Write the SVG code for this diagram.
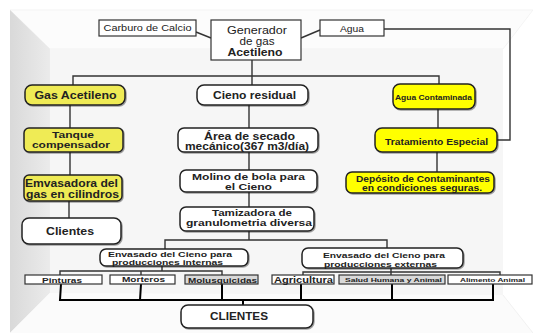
<svg xmlns="http://www.w3.org/2000/svg" width="533" height="333" viewBox="0 0 533 333">
<defs>
<linearGradient id="lw" x1="0" y1="0" x2="1" y2="0">
<stop offset="0" stop-color="#d9d9d9"/><stop offset="1" stop-color="#ebebeb"/>
</linearGradient>
<filter id="sh" x="-10%" y="-20%" width="120%" height="150%">
<feDropShadow dx="1" dy="1" stdDeviation="0.6" flood-color="#000" flood-opacity="0.35"/>
</filter>
<style>
.bx{stroke:#222;stroke-width:1.5;filter:url(#sh)}
.sq{stroke:#333;stroke-width:1.2}
.y1{fill:#efeb55}
.y2{fill:#ffff00}
.w{fill:#fff}
.g{fill:#d9d9d9}
text{font-family:"Liberation Sans",Arial,sans-serif;fill:#222;text-anchor:middle}
.b{font-weight:bold}
.c{stroke:#333;stroke-width:1.4;fill:none}
.c2{stroke:#000;stroke-width:2;fill:none}
</style>
</defs>
<g id="background">
<rect x="0" y="0" width="533" height="333" fill="#fff"/>
<polygon points="10,10 533,10 503,49 50,49" fill="#fcfcfc" stroke="#ececec" stroke-width="0.6"/>
<polygon points="10,10 50,49 50,293 10,333" fill="url(#lw)"/>
<rect x="50" y="49" width="453" height="246" fill="#f6f6f6"/>
<polygon points="50,293 503,295 533,333 10,333" fill="#fbfbfb"/>
<line x1="503" y1="295" x2="533" y2="333" stroke="#eee" stroke-width="0.8"/>
</g>
<g id="connectors">
<polyline class="c" points="196,32 211,38"/>
<polyline class="c" points="320,30 301,38"/>
<polyline class="c" points="384,29 510,29 510,140 497,140"/>
<polyline class="c" points="252,60 252,76"/>
<polyline class="c" points="73,85 73,76 439,76 439,84"/>
<polyline class="c" points="252,76 252,85"/>
<line class="c" x1="70" y1="105" x2="70" y2="128"/>
<line class="c" x1="70" y1="152" x2="70" y2="175"/>
<line class="c" x1="69" y1="201" x2="69" y2="218"/>
<line class="c" x1="249" y1="105" x2="249" y2="128"/>
<line class="c" x1="249" y1="152" x2="249" y2="170"/>
<line class="c" x1="249" y1="192" x2="249" y2="207"/>
<polyline class="c" points="249,231 249,240"/>
<polyline class="c" points="165,249 165,240 387,240 387,248"/>
<line class="c" x1="438" y1="109" x2="438" y2="128"/>
<line class="c" x1="437" y1="152" x2="437" y2="172"/>
<polyline class="c" points="162,266 162,271"/>
<polyline class="c" points="60,275 60,271 222,271 222,275"/>
<line class="c" x1="141" y1="271" x2="141" y2="275"/>
<polyline class="c" points="391,268 391,272"/>
<polyline class="c" points="303,275 303,272 500,272 500,275"/>
<line class="c" x1="391" y1="272" x2="391" y2="275"/>
<polyline class="c2" points="61,284 60,300 493,300 493,284"/>
<line class="c2" x1="141" y1="284" x2="140" y2="300"/>
<line class="c2" x1="222" y1="284" x2="222" y2="300"/>
<line class="c2" x1="301" y1="284" x2="301" y2="300"/>
<line class="c2" x1="392" y1="284" x2="392" y2="300"/>
<line class="c2" x1="243" y1="300" x2="243" y2="305"/>
</g>
<g id="carburo">
<rect class="sq w" x="99" y="20" width="97" height="16"/>
<text x="147.5" y="31" font-size="9" textLength="88" lengthAdjust="spacingAndGlyphs">Carburo de Calcio</text>
</g>
<g id="generador">
<rect class="sq w" x="211" y="20" width="90" height="40" stroke-width="1.4"/>
<text x="257" y="33.5" font-size="10" textLength="60" lengthAdjust="spacingAndGlyphs">Generador</text>
<text x="257" y="44.5" font-size="10" textLength="35" lengthAdjust="spacingAndGlyphs">de gas</text>
<text class="b" x="255" y="55.5" font-size="10" textLength="55" lengthAdjust="spacingAndGlyphs">Acetileno</text>
</g>
<g id="agua">
<rect class="sq w" x="320" y="20" width="64" height="16"/>
<text x="352" y="31.5" font-size="9" textLength="24" lengthAdjust="spacingAndGlyphs">Agua</text>
</g>
<g id="gas-acetileno">
<rect class="bx y1" x="25" y="85" width="100" height="20" rx="7"/>
<text class="b" x="75.5" y="99" font-size="10" textLength="82" lengthAdjust="spacingAndGlyphs">Gas Acetileno</text>
</g>
<g id="cieno-residual">
<rect class="bx w" x="197" y="85" width="111" height="20" rx="7"/>
<text class="b" x="254.5" y="99" font-size="10" textLength="83" lengthAdjust="spacingAndGlyphs">Cieno residual</text>
</g>
<g id="agua-contaminada">
<rect class="bx y2" x="393" y="84" width="82" height="25" rx="7"/>
<text class="b" x="433.5" y="99.5" font-size="7" textLength="77" lengthAdjust="spacingAndGlyphs">Agua Contaminada</text>
</g>
<g id="tanque">
<rect class="bx y1" x="24" y="128" width="99" height="24" rx="5"/>
<text class="b" x="73" y="137.5" font-size="9.5" textLength="42" lengthAdjust="spacingAndGlyphs">Tanque</text>
<text class="b" x="71" y="148" font-size="9.5" textLength="78" lengthAdjust="spacingAndGlyphs">compensador</text>
</g>
<g id="emvasadora">
<rect class="bx y1" x="24" y="175" width="98" height="26" rx="5"/>
<text class="b" x="71.5" y="187" font-size="10" textLength="93" lengthAdjust="spacingAndGlyphs">Emvasadora del</text>
<text class="b" x="72.5" y="198" font-size="10" textLength="93" lengthAdjust="spacingAndGlyphs">gas en cilindros</text>
</g>
<g id="clientes-gas">
<rect class="bx w" x="22" y="218" width="99" height="26" rx="7"/>
<text class="b" x="70" y="235" font-size="10" textLength="48" lengthAdjust="spacingAndGlyphs">Clientes</text>
</g>
<g id="area-secado">
<rect class="bx w" x="178" y="128" width="140" height="24" rx="6"/>
<text class="b" x="249.5" y="139.5" font-size="10" textLength="91" lengthAdjust="spacingAndGlyphs">Área de secado</text>
<text class="b" x="247" y="149.5" font-size="10" textLength="124" lengthAdjust="spacingAndGlyphs">mecánico(367 m3/día)</text>
</g>
<g id="molino">
<rect class="bx w" x="180" y="170" width="137" height="22" rx="6"/>
<text class="b" x="248.5" y="179.5" font-size="8.5" textLength="113" lengthAdjust="spacingAndGlyphs">Molino de bola para</text>
<text class="b" x="248.5" y="189.5" font-size="8.5" textLength="47" lengthAdjust="spacingAndGlyphs">el Cieno</text>
</g>
<g id="tamizadora">
<rect class="bx w" x="180" y="207" width="134" height="24" rx="6"/>
<text class="b" x="252" y="215.5" font-size="9.5" textLength="80" lengthAdjust="spacingAndGlyphs">Tamizadora de</text>
<text class="b" x="249" y="225.5" font-size="9.5" textLength="126" lengthAdjust="spacingAndGlyphs">granulometria diversa</text>
</g>
<g id="tratamiento">
<rect class="bx y2" x="375" y="128" width="122" height="24" rx="7"/>
<text class="b" x="436.5" y="144.5" font-size="9" textLength="103" lengthAdjust="spacingAndGlyphs">Tratamiento Especial</text>
</g>
<g id="deposito">
<rect class="bx y2" x="346" y="172" width="148" height="21" rx="6"/>
<text class="b" x="423" y="182" font-size="8.5" textLength="134" lengthAdjust="spacingAndGlyphs">Depósito de Contaminantes</text>
<text class="b" x="422" y="190.5" font-size="8.5" textLength="120" lengthAdjust="spacingAndGlyphs">en condiciones seguras.</text>
</g>
<g id="envasado-internas">
<rect class="bx w" x="100" y="249" width="148" height="17" rx="6"/>
<text class="b" x="170" y="257" font-size="8" textLength="124" lengthAdjust="spacingAndGlyphs">Envasado del Cieno para</text>
<text class="b" x="167.5" y="265" font-size="8" textLength="111" lengthAdjust="spacingAndGlyphs">producciones internas</text>
</g>
<g id="envasado-externas">
<rect class="bx w" x="302" y="248" width="161" height="20" rx="6"/>
<text class="b" x="384" y="258" font-size="8" textLength="122" lengthAdjust="spacingAndGlyphs">Envasado del Cieno para</text>
<text class="b" x="380.5" y="266.5" font-size="8" textLength="113" lengthAdjust="spacingAndGlyphs">producciones externas</text>
</g>
<g id="pinturas">
<rect class="sq w" x="25" y="275" width="77" height="9" stroke-width="1.5"/>
<text class="b" x="62" y="282.5" font-size="7.5" textLength="40" lengthAdjust="spacingAndGlyphs">Pinturas</text>
</g>
<g id="morteros">
<rect class="sq w" x="110" y="275" width="65" height="9" stroke-width="1.5"/>
<text class="b" x="143.5" y="282" font-size="7.5" textLength="43" lengthAdjust="spacingAndGlyphs">Morteros</text>
</g>
<g id="molusquicidas">
<rect class="sq g" x="185" y="275" width="73" height="9" stroke-width="1.5"/>
<text class="b" x="222.5" y="282.5" font-size="8" textLength="69" lengthAdjust="spacingAndGlyphs">Molusquicidas</text>
</g>
<g id="agricultura">
<rect class="sq w" x="272" y="275" width="62" height="9" stroke-width="1.5"/>
<text class="b" x="303.5" y="282.8" font-size="8.5" textLength="59" lengthAdjust="spacingAndGlyphs">Agricultura</text>
</g>
<g id="salud">
<rect class="sq g" x="339" y="275" width="106" height="9" stroke-width="1.5"/>
<text class="b" x="393.5" y="282" font-size="6" textLength="97" lengthAdjust="spacingAndGlyphs">Salud Humana y Animal</text>
</g>
<g id="alimento">
<rect class="sq w" x="448" y="275" width="84" height="9" stroke-width="1.2"/>
<text class="b" x="492.5" y="282" font-size="6" textLength="65" lengthAdjust="spacingAndGlyphs">Alimento Animal</text>
</g>
<g id="clientes">
<rect class="bx w" x="181" y="305" width="132" height="23" rx="7"/>
<text class="b" x="239" y="320" font-size="10.5" textLength="58" lengthAdjust="spacingAndGlyphs">CLIENTES</text>
</g>
</svg>
